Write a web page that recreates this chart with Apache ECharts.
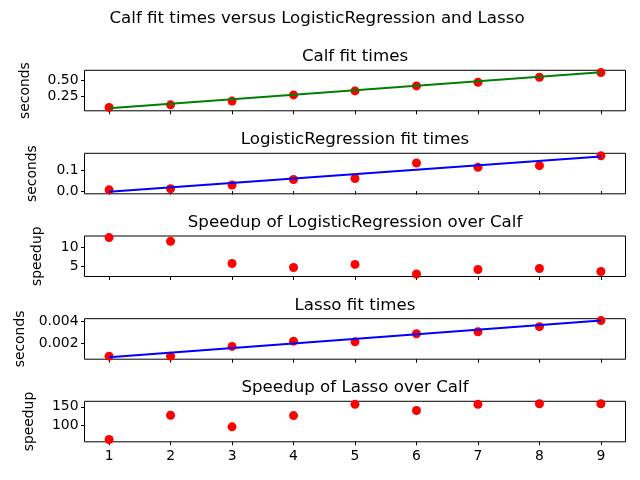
<!DOCTYPE html>
<html>
<head>
    <meta charset="utf-8" />
    <title>Calf fit times</title>
    <script src="https://cdn.jsdelivr.net/npm/echarts@6/dist/echarts.min.js"></script>
    <style>
        body { margin: 0; padding: 0; background: #fff; }
        #main { width: 640px; height: 480px; }
    </style>
</head>
<body>
<div id="main"></div>
<script type="text/javascript">
    // data
    var sizes = [1, 2, 3, 4, 5, 6, 7, 8, 9];
    var calfTimes = [0.067, 0.11, 0.17, 0.27, 0.335, 0.415, 0.475, 0.555, 0.63];
    var lrTimes = [0.006, 0.011, 0.029, 0.055, 0.06, 0.134, 0.113, 0.121, 0.168];
    var lrSpeedup = [12.7, 11.7, 5.8, 4.73, 5.54, 3.0, 4.2, 4.47, 3.66];
    var lassoTimes = [0.00086, 0.00086, 0.00173, 0.0022, 0.00214, 0.00286, 0.00304, 0.00349, 0.00403];
    var lassoSpeedup = [62.6, 127.3, 96.4, 126.4, 156.5, 140.1, 156.5, 158.2, 158.2];

    // least squares fit lines, end points at x=1 and x=9
    var fitX = [1, 9];
    var calfFit = [0.057, 0.635];
    var lrFit = [-0.003, 0.165];
    var lassoFit = [0.00077, 0.00405];

    // tick labels
    var xTicks = [1, 2, 3, 4, 5, 6, 7, 8, 9];
    var calfTicks = [0.25, 0.5];
    var lrTicks = [0.0, 0.1];
    var lrSpeedTicks = [5, 10];
    var lassoTicks = [0.002, 0.004];
    var lassoSpeedTicks = [100, 150];

    var font = 'DejaVu Sans';
    var panels = [
        {title: 'Calf fit times', name: 'seconds', data: calfTimes, fit: calfFit, fitColor: 'green',
         min: 0.014, max: 0.667, ticks: calfTicks, fmt: function (v) { return v.toFixed(2); }, gap: 52},
        {title: 'LogisticRegression fit times', name: 'seconds', data: lrTimes, fit: lrFit, fitColor: 'blue',
         min: -0.013, max: 0.18, ticks: lrTicks, fmt: function (v) { return v.toFixed(1); }, gap: 45},
        {title: 'Speedup of LogisticRegression over Calf', name: 'speedup', data: lrSpeedup, fit: null,
         min: 2.32, max: 13.13, ticks: lrSpeedTicks, fmt: function (v) { return String(v); }, gap: 40},
        {title: 'Lasso fit times', name: 'seconds', data: lassoTimes, fit: lassoFit, fitColor: 'blue',
         min: 0.00059, max: 0.0042, ticks: lassoTicks, fmt: function (v) { return v.toFixed(3); }, gap: 54},
        {title: 'Speedup of Lasso over Calf', name: 'speedup', data: lassoSpeedup, fit: null,
         min: 56.3, max: 164.7, ticks: lassoSpeedTicks, fmt: function (v) { return String(v); }, gap: 48}
    ];

    var gridTops = [70.3, 153.3, 236, 318.7, 401.3];
    var gridHeight = 40.5;

    var option = {
        backgroundColor: '#fff',
        animation: false,
        title: [{
            text: 'Calf fit times versus LogisticRegression and Lasso',
            left: 317, top: 10, textAlign: 'center', padding: 0,
            textStyle: {fontFamily: font, fontSize: 16.67, fontWeight: 'normal', color: '#000'}
        }],
        grid: [], xAxis: [], yAxis: [], series: []
    };

    panels.forEach(function (p, i) {
        option.title.push({
            text: p.title, left: 355, top: gridTops[i] - 22, textAlign: 'center', padding: 0,
            textStyle: {fontFamily: font, fontSize: 16.67, fontWeight: 'normal', color: '#000'}
        });
        option.grid.push({
            left: 84.5, right: 14.5, top: gridTops[i], height: gridHeight,
            show: true, borderColor: '#000', borderWidth: 1, backgroundColor: 'transparent'
        });
        option.xAxis.push({
            type: 'value', gridIndex: i, min: 0.6, max: 9.4,
            axisLine: {show: false},
            splitLine: {show: false},
            axisTick: {show: true, length: 3.5, customValues: xTicks, lineStyle: {color: '#000'}},
            axisLabel: {show: i === 4, customValues: xTicks, margin: 8, color: '#000', fontFamily: font, fontSize: 13.9}
        });
        option.yAxis.push({
            type: 'value', gridIndex: i, min: p.min, max: p.max,
            name: p.name, nameLocation: 'middle', nameGap: p.gap,
            nameTextStyle: {fontFamily: font, fontSize: 13.9, color: '#000'},
            axisLine: {show: false},
            splitLine: {show: false},
            axisTick: {show: true, length: 3.5, customValues: p.ticks, lineStyle: {color: '#000'}},
            axisLabel: {customValues: p.ticks, margin: 6, color: '#000', fontFamily: font, fontSize: 13.9,
                        formatter: p.fmt}
        });
        option.series.push({
            type: 'scatter', xAxisIndex: i, yAxisIndex: i, symbolSize: 9,
            itemStyle: {color: 'red', opacity: 1}, z: 2,
            data: sizes.map(function (x, k) { return [x, p.data[k]]; })
        });
        if (p.fit) {
            option.series.push({
                type: 'line', xAxisIndex: i, yAxisIndex: i, symbol: 'none', z: 3,
                lineStyle: {color: p.fitColor, width: 2},
                data: fitX.map(function (x, k) { return [x, p.fit[k]]; })
            });
        }
    });

    var myChart = echarts.init(document.getElementById('main'));
    myChart.setOption(option);
</script>
</body>
</html>
